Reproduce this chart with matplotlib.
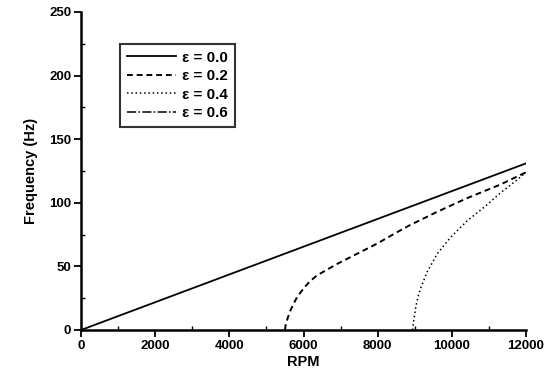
import matplotlib
matplotlib.use("Agg")
import matplotlib.pyplot as plt
from matplotlib.ticker import MultipleLocator

# Data
rpm_e00 = [0, 12000]
f_e00 = [0, 131]

rpm_e02 = [5500, 5520, 5580, 5650, 5740, 5830, 6010, 6180, 6370, 6910, 7450, 7990, 8530, 8840, 9610, 10400, 11320, 12000]
f_e02 = [0, 4, 10, 15.6, 21, 26, 33, 38.5, 43, 52, 60, 68, 77, 82, 93, 103.5, 114.5, 124]

rpm_e04 = [8945, 8960, 9027, 9090, 9160, 9340, 9610, 9970, 10420, 10870, 11320, 11780, 12000]
f_e04 = [0, 5, 18, 26.5, 33, 46, 60, 73, 86, 96.5, 108, 118.5, 124]

labels = ["ε = 0.0", "ε = 0.2", "ε = 0.4", "ε = 0.6"]

plt.rcParams['font.family'] = ['Liberation Sans', 'DejaVu Sans']

fig = plt.figure(figsize=(5.57, 3.83), dpi=100)
ax = fig.add_axes([81/557, 1 - 330/383, (526-81)/557, (330-12)/383])

ax.plot(rpm_e00, f_e00, color='black', lw=1.3, ls='-', label=labels[0])
ax.plot(rpm_e02, f_e02, color='black', lw=1.4, ls=(0, (3, 2)), label=labels[1])
ax.plot(rpm_e04, f_e04, color='black', lw=1.1, ls=(0, (1, 1.8)), label=labels[2])
ax.plot([], [], color='black', lw=1.1, ls=(0, (6, 1.5, 1, 1.5)), label=labels[3])

ax.set_xlim(0, 12000)
ax.set_ylim(0, 250)
ax.xaxis.set_major_locator(MultipleLocator(2000))
ax.xaxis.set_minor_locator(MultipleLocator(1000))
ax.yaxis.set_major_locator(MultipleLocator(50))
ax.yaxis.set_minor_locator(MultipleLocator(25))

for s in ['top', 'right']:
    ax.spines[s].set_visible(False)
for s in ['left', 'bottom']:
    ax.spines[s].set_linewidth(1.8)

ax.tick_params(which='major', direction='out', length=5, width=1.3, labelsize=9.5, pad=2)
ax.tick_params(which='minor', direction='in', length=3, width=1.0)
for lab in ax.get_xticklabels() + ax.get_yticklabels():
    lab.set_fontweight('bold')

ax.set_xlabel("RPM", fontsize=10.5, fontweight='bold', labelpad=2)
ax.set_ylabel("Frequency (Hz)", fontsize=10.5, fontweight='bold', labelpad=8)

leg = ax.legend(loc='upper left', bbox_to_anchor=(0.088, 0.9), frameon=True, fancybox=False,
                edgecolor='black', prop={'weight': 'bold', 'size': 11},
                handlelength=3.2, handletextpad=0.4, labelspacing=0.3, borderpad=0.45,
                borderaxespad=0)
leg.get_frame().set_linewidth(1.5)

fig.savefig("out.png", dpi=100)
